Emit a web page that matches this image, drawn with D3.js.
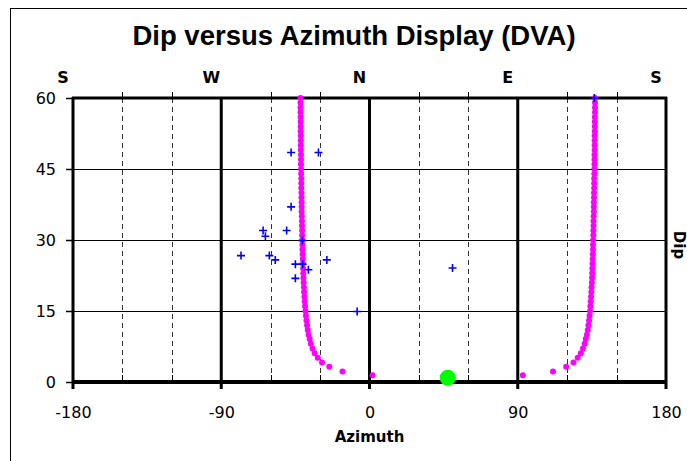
<!DOCTYPE html>
<html><head><meta charset="utf-8">
<script src="https://cdn.jsdelivr.net/npm/d3@7"></script>
<style>body{margin:0;background:#fff;}svg{display:block;}</style>
</head><body><svg id="c" width="687" height="461"></svg>
<script>
// ---- data ----
const title = "Dip versus Azimuth Display (DVA)";
const xTicks = [-180, -90, 0, 90, 180];
const yTicks = [0, 15, 30, 45, 60];
const dashedAz = [-150, -120, -60, -30, 30, 60, 120, 150];
const compass = ["S", "W", "N", "E", "S"];
const curveDip = [1.4,2.2,3.2,4.1,5.1,6.1,7.1,8.1,9.1,10,11,12,13,14,15,16,17,18,19,20,21,22,23,24,25,26,27,28,29,30,31,32,33,34,35,36,37,38,39,40,41,42,43,44,45,46,47,48,49,50,51,52,53,54,55,56,57,58,59,60];
const curveLeftAz = [1.9,-16.4,-24.4,-28.8,-31.4,-33.3,-34.6,-35.6,-36.3,-37.0,-37.5,-37.9,-38.3,-38.6,-38.9,-39.1,-39.3,-39.5,-39.7,-39.8,-40.0,-40.1,-40.2,-40.3,-40.4,-40.5,-40.6,-40.7,-40.7,-40.8,-40.9,-40.9,-41.0,-41.0,-41.1,-41.2,-41.2,-41.2,-41.3,-41.3,-41.4,-41.4,-41.4,-41.5,-41.5,-41.6,-41.6,-41.6,-41.7,-41.7,-41.7,-41.7,-41.8,-41.8,-41.8,-41.8,-41.9,-41.9,-41.9,-41.9];
const curveRightAz = [93.1,111.4,119.4,123.8,126.4,128.3,129.6,130.6,131.3,132.0,132.5,132.9,133.3,133.6,133.9,134.1,134.3,134.5,134.7,134.8,135.0,135.1,135.2,135.3,135.4,135.5,135.6,135.7,135.7,135.8,135.9,135.9,136.0,136.0,136.1,136.2,136.2,136.2,136.3,136.3,136.4,136.4,136.4,136.5,136.5,136.6,136.6,136.6,136.7,136.7,136.7,136.7,136.8,136.8,136.8,136.8,136.9,136.9,136.9,136.9];
const poleAz = [-47.6,-31.0,-47.6,-64.6,-63.2,-50.3,-40.7,-78.0,-60.8,-57.2,-45.0,-40.6,-37.1,-25.9,-45.0,-7.5,50.4,136.5];
const poleDip = [48.5,48.5,37.0,32.0,30.8,32.0,29.9,26.7,26.7,25.8,24.9,24.9,23.7,25.8,21.9,14.9,24.1,60.0];
const boreAz = [47.5];
const boreDip = [0.9];

// ---- chart ----
const svg = d3.select("#c");
const x = d3.scaleLinear().domain([-180, 180]).range([73, 666]);
const y = d3.scaleLinear().domain([0, 60]).range([382, 98]);
const px = v => Math.round(v) + 0.5;

svg.append("rect").attr("x", 10.5).attr("y", 8.5).attr("width", 720).attr("height", 500)
  .attr("fill", "#fff").attr("stroke", "#000").attr("stroke-width", 1);

svg.append("text").attr("x", 354).attr("y", 45).attr("text-anchor", "middle")
  .attr("font-family", "Liberation Sans, Arial, sans-serif").attr("font-weight", "bold")
  .attr("font-size", 27.5).text(title);

// dashed verticals
svg.selectAll(".dash").data(dashedAz).enter().append("line")
  .attr("x1", d => px(x(d))).attr("x2", d => px(x(d))).attr("y1", y(60)).attr("y2", y(0))
  .attr("stroke", "#333").attr("stroke-width", 1).attr("stroke-dasharray", "5,4");

// horizontal grid
svg.selectAll(".hg").data([15, 30, 45]).enter().append("line")
  .attr("x1", x(-180)).attr("x2", x(180)).attr("y1", d => px(y(d))).attr("y2", d => px(y(d)))
  .attr("stroke", "#000").attr("stroke-width", 1);

// minor ticks up from bottom and top
svg.selectAll(".mtb").data(dashedAz).enter().append("line")
  .attr("x1", d => px(x(d))).attr("x2", d => px(x(d))).attr("y1", y(0)).attr("y2", y(0) - 7)
  .attr("stroke", "#000").attr("stroke-width", 1);
svg.selectAll(".mtt").data(dashedAz).enter().append("line")
  .attr("x1", d => px(x(d))).attr("x2", d => px(x(d))).attr("y1", y(60)).attr("y2", y(60) - 6)
  .attr("stroke", "#000").attr("stroke-width", 1);

// thick verticals
svg.selectAll(".maj").data(xTicks).enter().append("line")
  .attr("x1", d => x(d)).attr("x2", d => x(d)).attr("y1", y(60) - 1).attr("y2", y(0) + 7)
  .attr("stroke", "#000").attr("stroke-width", 3);

// top and bottom lines
svg.append("line").attr("x1", x(-180) - 1).attr("x2", x(180) + 1).attr("y1", y(60)).attr("y2", y(60))
  .attr("stroke", "#000").attr("stroke-width", 3);
svg.append("line").attr("x1", x(-180) - 1).attr("x2", x(180) + 1).attr("y1", y(0)).attr("y2", y(0))
  .attr("stroke", "#000").attr("stroke-width", 4);

// y ticks and labels
const yAxis = d3.axisLeft(y).tickValues(yTicks).tickSize(6).tickPadding(10).tickFormat(d => String(d));
const ya = svg.append("g").attr("transform", `translate(${x(-180) - 1},0)`).call(yAxis);
ya.select(".domain").remove();
ya.selectAll("line").attr("stroke", "#000").attr("stroke-width", 1.5);
ya.selectAll("text").attr("font-family", "DejaVu Sans, sans-serif").attr("font-size", 16).attr("fill", "#000");

// x labels
const xAxis = d3.axisBottom(x).tickValues(xTicks).tickSize(0).tickPadding(0).tickFormat(d => String(d));
const xa = svg.append("g").attr("transform", `translate(0,${y(0) + 25})`).call(xAxis);
xa.select(".domain").remove();
xa.selectAll("text").attr("font-family", "DejaVu Sans, sans-serif").attr("font-size", 16).attr("fill", "#000");

svg.append("text").attr("x", x(0)).attr("y", 442).attr("text-anchor", "middle")
  .attr("font-family", "DejaVu Sans, sans-serif").attr("font-weight", "bold").attr("font-size", 15)
  .text("Azimuth");

// compass labels
svg.selectAll(".cmp").data(compass).enter().append("text")
  .attr("x", (d, i) => x(xTicks[i]) - 10).attr("y", 83).attr("text-anchor", "middle")
  .attr("font-family", "DejaVu Sans, sans-serif").attr("font-weight", "bold").attr("font-size", 16)
  .text(d => d);

// right axis title
svg.append("text").attr("transform", "translate(674,245) rotate(90)").attr("text-anchor", "middle")
  .attr("font-family", "DejaVu Sans, sans-serif").attr("font-weight", "bold").attr("font-size", 15)
  .text("Dip");

// magenta curves
const curvePts = curveDip.map((d, i) => [curveLeftAz[i], d]).concat(curveDip.map((d, i) => [curveRightAz[i], d]));
svg.selectAll(".cv").data(curvePts).enter().append("circle")
  .attr("cx", d => x(d[0])).attr("cy", d => y(d[1])).attr("r", 3).attr("fill", "#ff00ff");

// blue crosses
const poles = poleAz.map((a, i) => [a, poleDip[i]]);
svg.selectAll(".cr").data(poles).enter().append("path")
  .attr("d", d => { const cx = x(d[0]), cy = y(d[1]); return `M${cx - 4},${cy}H${cx + 4}M${cx},${cy - 4}V${cy + 4}`; })
  .attr("stroke", "#0000ff").attr("stroke-width", 1.6).attr("fill", "none");

// borehole
svg.selectAll(".bh").data(boreAz.map((a, i) => [a, boreDip[i]])).enter().append("circle")
  .attr("cx", d => x(d[0])).attr("cy", d => y(d[1])).attr("r", 8).attr("fill", "#00ff00");
</script></body></html>
